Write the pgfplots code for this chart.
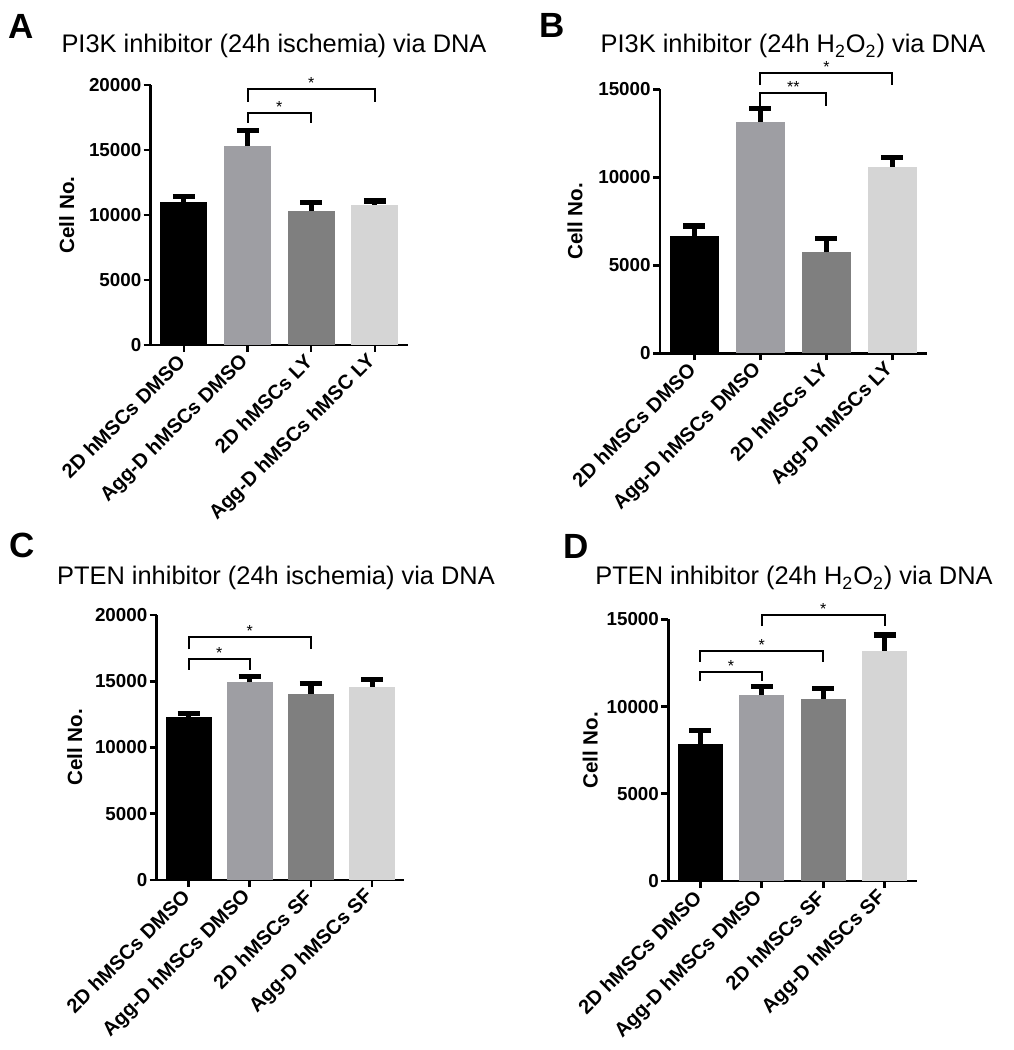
\documentclass[border=0pt]{standalone}
\usepackage{fontspec}
\setmainfont{Liberation Sans}
\usepackage{pgfplots}
\pgfplotsset{compat=1.18}

\definecolor{barA}{RGB}{0,0,0}
\definecolor{barB}{RGB}{158,158,163}
\definecolor{barC}{RGB}{127,127,127}
\definecolor{barD}{RGB}{213,213,213}

\pgfplotsset{
  cellax/.style={
    scale only axis, anchor=south west, clip=false,
    axis lines=left,
    axis line style={-, line width=1.3pt, black},
    x axis line style={-}, y axis line style={-},
    tick align=outside, major tick length=3.5pt,
    tick style={line width=1.3pt, black},
    ymin=0, xmin=-0.52, xmax=3.52,
    xtick={0,1,2,3},
    x tick label style={font=\bfseries\fontsize{10}{12}\selectfont, rotate=45, anchor=east, inner sep=1.5pt},
    xticklabel shift=2pt,
    y tick label style={font=\bfseries\fontsize{9.4}{11}\selectfont, inner sep=1pt},
    /pgf/number format/assume math mode=true,
    /pgf/number format/1000 sep={},
    scaled y ticks=false,
    ylabel={Cell No.},
  },
  ylab/.style={every axis y label/.style={at={([xshift=-#1]axis description cs:0,0.5)},
      rotate=90, anchor=center, font=\bfseries\fontsize{10.3}{12}\selectfont}},
  cbar/.style 2 args={ybar, bar shift=0pt, bar width=#2, fill=#1, draw=none,
    error bars/.cd, y dir=plus, y explicit,
    error bar style={line width=2.6pt, black},
    error mark options={rotate=90, line width=2.6pt, mark size=5.5pt, black}},
  brk/.style={black, line width=1pt, sharp plot, no marks, forget plot},
}
\tikzset{sigstar/.style={anchor=base, inner sep=0pt, yshift=0.3pt, font=\fontsize{8}{8}\selectfont},
  panel/.style={font=\bfseries\fontsize{17.5}{18}\selectfont, inner sep=0},
  ptitle/.style={font=\fontsize{12.7}{14}\selectfont, anchor=base, inner sep=0}}

\begin{document}
\begin{tikzpicture}
\useasboundingbox (0,0) rectangle (506.5pt,525pt);

% panel letters and titles
\node[panel] at (10.75pt,511.75pt) {A};
\node[panel] at (276pt,512.5pt) {B};
\node[panel] at (11pt,252.5pt) {C};
\node[panel] at (288pt,252pt) {D};
\node[ptitle] at (137pt,498.5pt) {PI3K inhibitor (24h ischemia) via DNA};
\node[ptitle] at (396.5pt,498.5pt) {PI3K inhibitor (24h H\textsubscript{2}O\textsubscript{2}) via DNA};
\node[ptitle] at (138pt,232.5pt) {PTEN inhibitor (24h ischemia) via DNA};
\node[ptitle] at (397pt,232.5pt) {PTEN inhibitor (24h H\textsubscript{2}O\textsubscript{2}) via DNA};

% A
\begin{axis}[cellax, ylab=42pt, at={(75.35pt,352.5pt)}, width=128.65pt, height=130pt,
  ymax=20000, ytick={0,5000,10000,15000,20000},
  xticklabels={2D hMSCs DMSO, Agg-D hMSCs DMSO, 2D hMSCs LY, Agg-D hMSCs hMSC LY}]
\addplot[cbar={barA}{23.5pt}] coordinates {(0,11000) +- (0,400)};
\addplot[cbar={barB}{23.5pt}] coordinates {(1,15300) +- (0,1200)};
\addplot[cbar={barC}{23.5pt}] coordinates {(2,10330) +- (0,650)};
\addplot[cbar={barD}{23.5pt}] coordinates {(3,10770) +- (0,310)};
\addplot[brk] coordinates {(1,17100) (1,17820) (2,17820) (2,17100)};
\addplot[brk] coordinates {(1,18720) (1,19670) (3,19670) (3,18720)};
\node[sigstar] at (axis cs:1.5,17820) {*};
\node[sigstar] at (axis cs:2,19670) {*};
\end{axis}

% B
\begin{axis}[cellax, ylab=42.5pt, at={(330pt,348.35pt)}, width=133.35pt, height=132pt,
  ymax=15000, ytick={0,5000,10000,15000},
  xticklabels={2D hMSCs DMSO, Agg-D hMSCs DMSO, 2D hMSCs LY, Agg-D hMSCs LY}]
\addplot[cbar={barA}{24.5pt}] coordinates {(0,6680) +- (0,550)};
\addplot[cbar={barB}{24.5pt}] coordinates {(1,13160) +- (0,760)};
\addplot[cbar={barC}{24.5pt}] coordinates {(2,5740) +- (0,790)};
\addplot[cbar={barD}{24.5pt}] coordinates {(3,10600) +- (0,540)};
\addplot[brk] coordinates {(1,14050) (1,14770) (2,14770) (2,14050)};
\addplot[brk] coordinates {(1,15240) (1,15940) (3,15940) (3,15240)};
\node[sigstar] at (axis cs:1.5,14770) {**};
\node[sigstar] at (axis cs:2,15940) {*};
\end{axis}

% C
\begin{axis}[cellax, ylab=41pt, at={(78.35pt,85pt)}, width=123.65pt, height=132.5pt,
  ymax=20000, ytick={0,5000,10000,15000,20000},
  xticklabels={2D hMSCs DMSO, Agg-D hMSCs DMSO, 2D hMSCs SF, Agg-D hMSCs SF}]
\addplot[cbar={barA}{23pt}] coordinates {(0,12280) +- (0,300)};
\addplot[cbar={barB}{23pt}] coordinates {(1,14920) +- (0,430)};
\addplot[cbar={barC}{23pt}] coordinates {(2,14040) +- (0,800)};
\addplot[cbar={barD}{23pt}] coordinates {(3,14590) +- (0,550)};
\addplot[brk] coordinates {(0,15850) (0,16660) (1,16660) (1,15850)};
\addplot[brk] coordinates {(0,17410) (0,18320) (2,18320) (2,17410)};
\node[sigstar] at (axis cs:0.5,16660) {*};
\node[sigstar] at (axis cs:1,18320) {*};
\end{axis}

% D
\begin{axis}[cellax, ylab=39pt, at={(334.15pt,84.5pt)}, width=124.2pt, height=130.85pt,
  ymax=15000, ytick={0,5000,10000,15000},
  xticklabels={2D hMSCs DMSO, Agg-D hMSCs DMSO, 2D hMSCs SF, Agg-D hMSCs SF}]
\addplot[cbar={barA}{22.5pt}] coordinates {(0,7850) +- (0,760)};
\addplot[cbar={barB}{22.5pt}] coordinates {(1,10660) +- (0,470)};
\addplot[cbar={barC}{22.5pt}] coordinates {(2,10430) +- (0,610)};
\addplot[cbar={barD}{22.5pt}] coordinates {(3,13200) +- (0,900)};
\addplot[brk] coordinates {(0,11450) (0,11990) (1,11990) (1,11450)};
\addplot[brk] coordinates {(0,12570) (0,13200) (2,13200) (2,12570)};
\addplot[brk] coordinates {(1,14610) (1,15240) (3,15240) (3,14610)};
\node[sigstar] at (axis cs:0.5,11990) {*};
\node[sigstar] at (axis cs:1,13200) {*};
\node[sigstar] at (axis cs:2,15240) {*};
\end{axis}
\end{tikzpicture}
\end{document}
